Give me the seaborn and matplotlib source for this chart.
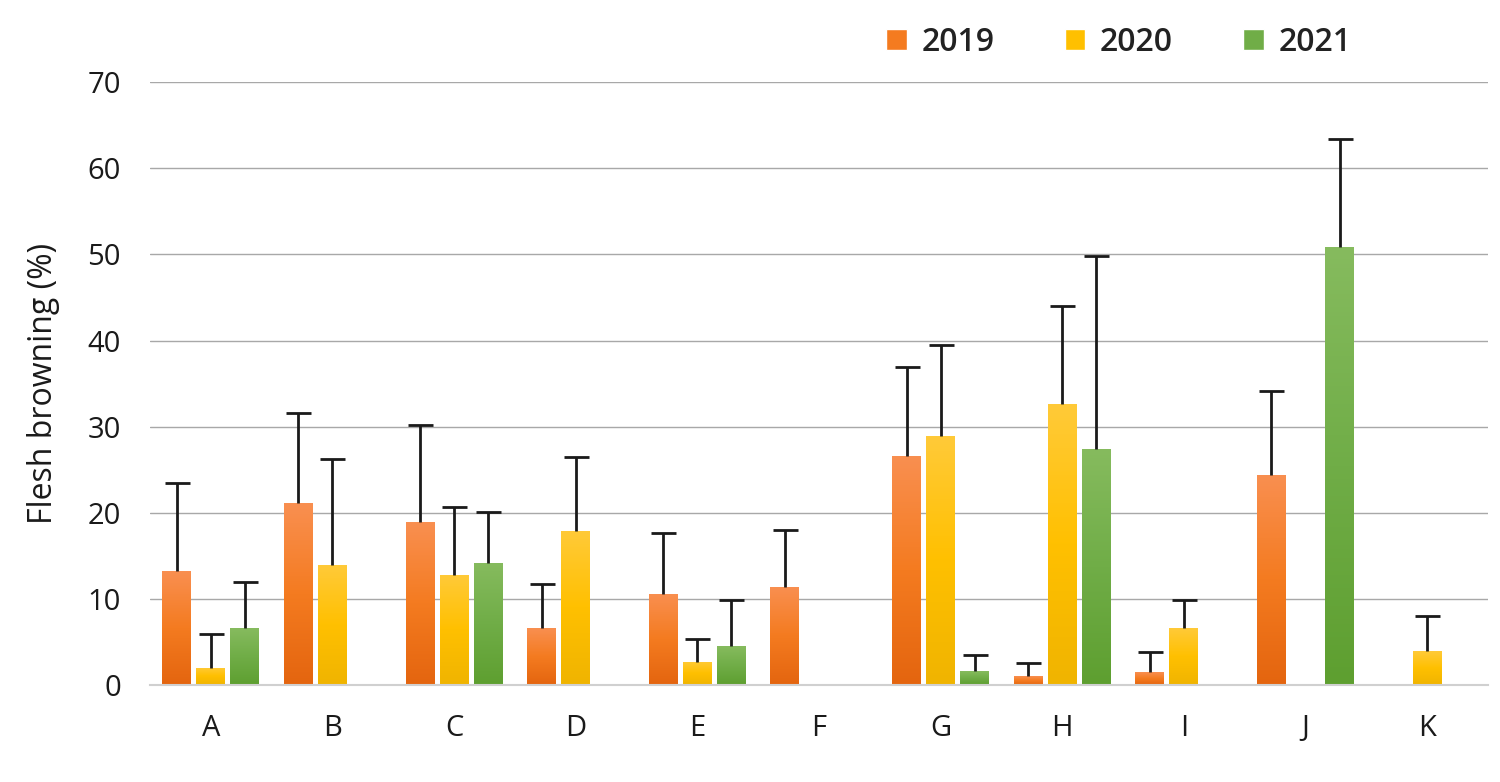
import numpy as np
import pandas as pd
import seaborn as sns
import matplotlib.pyplot as plt
from matplotlib.colors import LinearSegmentedColormap
from matplotlib.patches import Patch

# data
cultivars = ['A', 'B', 'C', 'D', 'E', 'F', 'G', 'H', 'I', 'J', 'K']
years = ['2019', '2020', '2021']
mean_2019 = [13.2, 21.1, 18.9, 6.6, 10.6, 11.4, 26.6, 1.0, 1.5, 24.4, 0.0]
mean_2020 = [2.0, 13.9, 12.8, 17.9, 2.7, 0.0, 28.9, 32.6, 6.6, 0.0, 3.9]
mean_2021 = [6.6, 0.0, 14.2, 0.0, 4.5, 0.0, 1.6, 27.4, 0.0, 50.9, 0.0]
sd_2019 = [10.3, 10.5, 11.3, 5.1, 7.1, 6.6, 10.3, 1.6, 2.3, 9.7, 0.0]
sd_2020 = [3.9, 12.3, 7.9, 8.6, 2.6, 0.0, 10.6, 11.4, 3.3, 0.0, 4.1]
sd_2021 = [5.4, 0.0, 5.9, 0.0, 5.4, 0.0, 1.9, 22.4, 0.0, 12.5, 0.0]

means = [mean_2019, mean_2020, mean_2021]
sds = [sd_2019, sd_2020, sd_2021]

df = pd.DataFrame({
    'cultivar': cultivars * 3,
    'year': np.repeat(years, len(cultivars)),
    'value': mean_2019 + mean_2020 + mean_2021,
})

base = ['#F47B20', '#FFC000', '#70AD47']
light = ['#F98F50', '#FFCA38', '#86BB5E']
dark = ['#E4650F', '#F0B400', '#5E9F30']

sns.set_style('white')
plt.rcParams['font.family'] = ['Open Sans', 'DejaVu Sans']

fig = plt.figure(figsize=(15, 7.82), dpi=100)
ax = fig.add_axes([0.1, 0.124, 0.892, 0.771])

sns.barplot(data=df, x='cultivar', y='value', hue='year', palette=base,
            errorbar=None, width=0.84, gap=0.15, legend=False, ax=ax)

# gradient fill + upper-only error bars
grad = np.linspace(0, 1, 100).reshape(-1, 1)
bar_groups = list(ax.containers)
for k, cont in enumerate(bar_groups):
    cmap = LinearSegmentedColormap.from_list('g%d' % k, [dark[k], base[k], light[k]])
    for i, bar in enumerate(cont):
        h = bar.get_height()
        if h <= 0:
            bar.set_visible(False)
            continue
        x0, w = bar.get_x(), bar.get_width()
        im = ax.imshow(grad, cmap=cmap, origin='lower', aspect='auto',
                       extent=[x0, x0 + w, 0, h], zorder=2)
        im.set_clip_path(bar)
        bar.set_facecolor('none')
        bar.set_edgecolor('none')
        if sds[k][i] > 0:
            eb = ax.errorbar(x0 + w / 2, h, yerr=[[0], [sds[k][i]]], fmt='none',
                             ecolor='#1a1a1a', elinewidth=2, capsize=9, capthick=2, zorder=3)
            eb[1][0].set_visible(False)  # hide the lower cap

ax.set_xlim(-0.5, 10.5)
ax.set_ylim(0, 70)
ax.set_yticks(range(0, 71, 10))
ax.yaxis.grid(True, color='#a8a8a8', linewidth=1)
ax.set_axisbelow(True)
for s in ['top', 'right', 'left']:
    ax.spines[s].set_visible(False)
ax.spines['bottom'].set_color('#d0d0d0')
ax.spines['bottom'].set_linewidth(1.5)
ax.tick_params(axis='both', length=0, labelsize=21, colors='#1a1a1a')
ax.tick_params(axis='y', pad=21)
ax.tick_params(axis='x', pad=21)
ax.set_xlabel('')
ax.set_ylabel('Flesh browning (%)', fontsize=23, color='#1a1a1a', labelpad=20)

handles = [Patch(facecolor=base[k], label=years[k]) for k in range(3)]
fig.legend(handles=handles, loc='center right', bbox_to_anchor=(0.92, 0.946), ncol=3,
           frameon=False, handlelength=0.65, handleheight=0.65,
           handletextpad=0.45, columnspacing=2.2,
           prop={'size': 23, 'weight': 'semibold'}, labelcolor='#222222')

fig.savefig('out.png', dpi=100, facecolor='white')
